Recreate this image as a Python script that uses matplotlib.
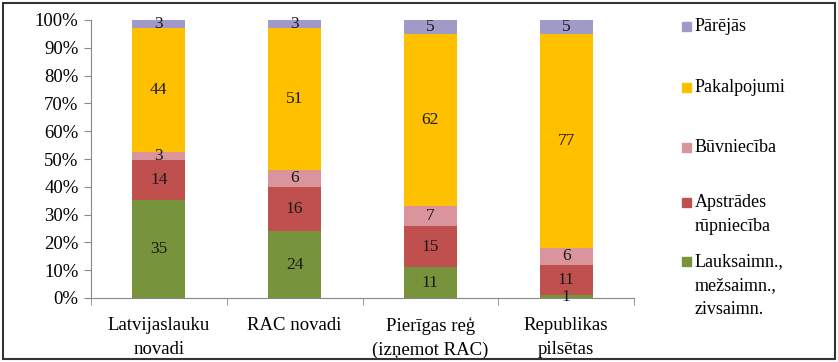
import numpy as np
import matplotlib.pyplot as plt
from matplotlib.ticker import FixedLocator, PercentFormatter

plt.rcParams['font.family'] = ['Liberation Serif', 'DejaVu Serif']

# --- DATA ---
categories = ['Latvijaslauku\nnovadi', 'RAC novadi', 'Pierīgas reģ\n(izņemot RAC)', 'Republikas\npilsētas']
series_names = ['Lauksaimn.,\nmežsaimn.,\nzivsaimn.', 'Apstrādes\nrūpniecība', 'Būvniecība', 'Pakalpojumi', 'Pārējās']
lauks = [35, 24, 11, 1]
apstr = [14, 16, 15, 11]
buvn = [3, 6, 7, 6]
pakalp = [44, 51, 62, 77]
parejas = [3, 3, 5, 5]
colors = ['#77933C', '#C0504D', '#D9959B', '#FFC000', '#A09AC8']

series = [lauks, apstr, buvn, pakalp, parejas]
totals = np.sum(np.array(series, dtype=float), axis=0)

fig = plt.figure(figsize=(8.38, 3.62), dpi=100)
ax = fig.add_axes([91/838, 1 - 298/362, (634 - 91)/838, (298 - 20)/362])

x = np.arange(len(categories))
bottom = np.zeros(len(categories))
for vals, name, col in zip(series, series_names, colors):
    vals = np.array(vals, dtype=float)
    share = vals / totals
    ax.bar(x, share, width=0.39, bottom=bottom, color=col, label=name)
    for xi, v, s, b0 in zip(x, vals, share, bottom):
        ax.text(xi, b0 + s / 2, f'{int(v)}', ha='center', va='center',
                fontsize=12.5, color='#1a1a1a')
    bottom += share

ax.set_xlim(-0.5, len(categories) - 0.5)
ax.set_ylim(0, 1)
ax.yaxis.set_major_locator(FixedLocator(np.linspace(0, 1, 11)))
ax.yaxis.set_major_formatter(PercentFormatter(1.0, decimals=0))
ax.set_xticks(x)
ax.set_xticklabels(categories, fontsize=13.5, linespacing=1.5)
ax.xaxis.set_minor_locator(FixedLocator(np.arange(-0.5, len(categories), 1)))
ax.tick_params(axis='x', which='major', length=0, pad=14)
ax.tick_params(axis='x', which='minor', length=5, color='#888888', direction='out')
ax.tick_params(axis='y', length=5, color='#888888', labelsize=13.5, pad=4)
for s in ['top', 'right']:
    ax.spines[s].set_visible(False)
for s in ['left', 'bottom']:
    ax.spines[s].set_color('#888888')

# legend, drawn as squares + text, top entry first
legend_y = [27, 88, 148, 203, 262]
for name, col, ly in zip(series_names[::-1], colors[::-1], legend_y):
    fig.patches.append(plt.Rectangle((682/838, 1 - (ly + 4)/362), 9/838, 9/362,
                                     transform=fig.transFigure, color=col))
    fig.text(695/838, 1 - (ly - 9)/362, name, ha='left', va='top',
             fontsize=13, linespacing=1.55)

# outer border
fig.patches.append(plt.Rectangle((3/838, 3/362), 832/838, 356/362, transform=fig.transFigure,
                                 fill=False, edgecolor='#333333', linewidth=1.5))

fig.savefig('out.png', dpi=100)
